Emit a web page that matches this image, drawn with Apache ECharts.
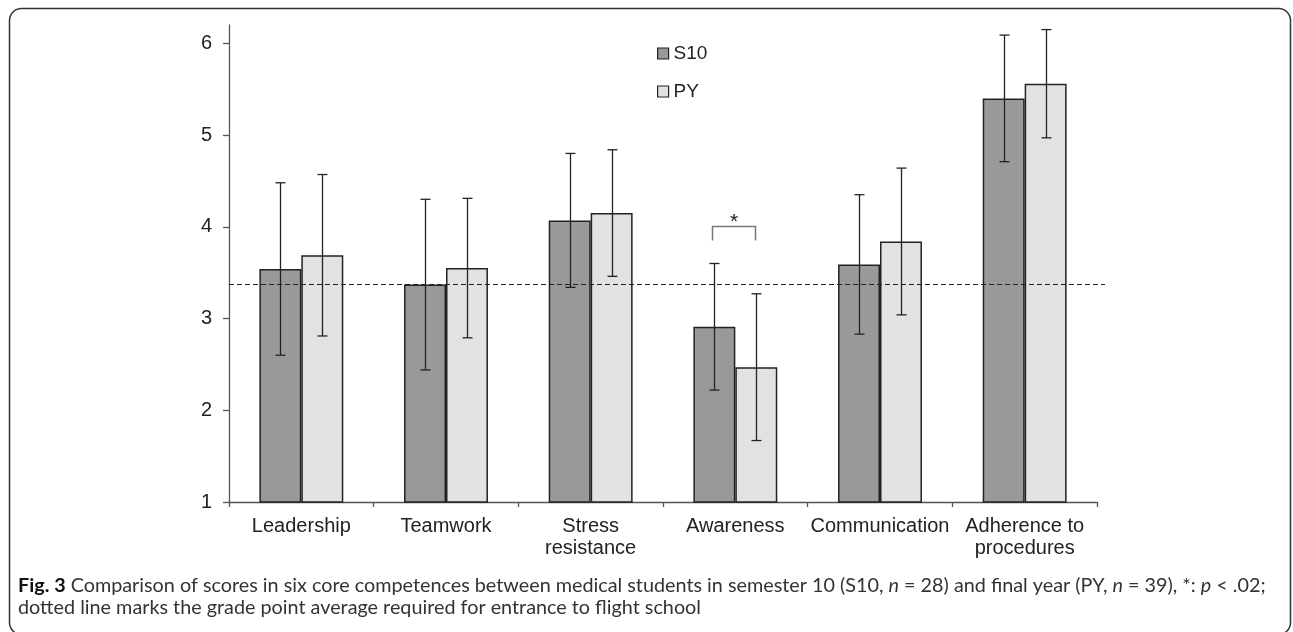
<!DOCTYPE html>
<html>
<head>
<meta charset="utf-8">
<script src="https://cdn.jsdelivr.net/npm/echarts@6/dist/echarts.min.js"></script>
<style>
html,body{margin:0;padding:0;background:#fff;}
#chart{width:1293px;height:632px;}
</style>
</head>
<body>
<div id="chart"></div>
<script>
var categories = ['Leadership', 'Teamwork', 'Stress\nresistance', 'Awareness', 'Communication', 'Adherence to\nprocedures'];
var seriesNames = ['S10', 'PY'];
var s10Mean = [3.54, 3.37, 4.07, 2.91, 3.59, 5.40];
var s10Low  = [2.60, 2.44, 3.34, 2.22, 2.83, 4.71];
var s10High = [4.48, 4.30, 4.80, 3.60, 4.35, 6.09];
var pyMean  = [3.69, 3.55, 4.15, 2.47, 3.84, 5.56];
var pyLow   = [2.81, 2.79, 3.46, 1.67, 3.04, 4.97];
var pyHigh  = [4.57, 4.31, 4.84, 3.27, 4.64, 6.15];
var yTicks = [1, 2, 3, 4, 5, 6];
var thresholdValue = 3.38;
var sigCategoryIndex = 3;
var sigBracket = [3.85, 4.01];
var sigLabel = '*';

var BAR_FRAC = 0.58;
var LINE_COLOR = '#222';

function errData(low, high) {
  return low.map(function (l, i) { return [i, l, high[i]]; });
}
function errRender(sign) {
  return function (params, api) {
    var i = api.value(0);
    var lo = api.coord([i, api.value(1)]);
    var hi = api.coord([i, api.value(2)]);
    var band = api.size([1, 0])[0];
    var cx = Math.round(lo[0] + sign * band * BAR_FRAC / 4) + 0.5;
    var cap = 5;
    var st = { stroke: LINE_COLOR, lineWidth: 1.3 };
    return {
      type: 'group',
      children: [
        { type: 'line', shape: { x1: cx, y1: hi[1], x2: cx, y2: lo[1] }, style: st },
        { type: 'line', shape: { x1: cx - cap, y1: hi[1], x2: cx + cap, y2: hi[1] }, style: st },
        { type: 'line', shape: { x1: cx - cap, y1: lo[1], x2: cx + cap, y2: lo[1] }, style: st }
      ]
    };
  };
}

var chart = echarts.init(document.getElementById('chart'), null, { renderer: 'canvas' });
var option = {
  animation: false,
  backgroundColor: '#fff',
  grid: { left: 229, right: 196, top: 25, bottom: 130, containLabel: false },
  legend: {
    orient: 'vertical',
    left: 657,
    top: 44,
    padding: 0,
    itemWidth: 11,
    itemHeight: 11,
    itemGap: 19,
    icon: 'rect',
    data: seriesNames,
    itemStyle: { borderColor: '#222', borderWidth: 1.2 },
    textStyle: { fontFamily: 'Liberation Sans, Arial, sans-serif', fontSize: 19, color: '#222' }
  },
  xAxis: {
    type: 'category',
    data: categories,
    axisLine: { lineStyle: { color: '#555', width: 1.3 } },
    axisTick: { show: true, length: 5, lineStyle: { color: '#555', width: 1.3 } },
    axisLabel: {
      fontFamily: 'Liberation Sans, Arial, sans-serif', fontSize: 20, color: '#222',
      margin: 13, lineHeight: 22, interval: 0
    },
    splitLine: { show: false }
  },
  yAxis: {
    type: 'value',
    min: 1, max: 6.2, interval: 1,
    axisLine: { show: true, lineStyle: { color: '#555', width: 1.3 } },
    axisTick: { show: true, length: 6, customValues: yTicks, lineStyle: { color: '#555', width: 1.3 } },
    axisLabel: {
      customValues: yTicks,
      fontFamily: 'Liberation Sans, Arial, sans-serif', fontSize: 20, color: '#222', margin: 17
    },
    splitLine: { show: false }
  },
  series: [
    {
      name: seriesNames[0], type: 'bar', data: s10Mean,
      barGap: '0%', barCategoryGap: '42%',
      itemStyle: { color: '#999999', borderColor: '#222', borderWidth: 1.5 },
      z: 2
    },
    {
      name: seriesNames[1], type: 'bar', data: pyMean,
      barGap: '0%', barCategoryGap: '42%',
      itemStyle: { color: '#e2e2e2', borderColor: '#222', borderWidth: 1.5 },
      z: 2
    },
    {
      type: 'custom', name: 'errS10', data: errData(s10Low, s10High),
      renderItem: errRender(-1), encode: { x: 0, y: [1, 2] }, z: 4, silent: true
    },
    {
      type: 'custom', name: 'errPY', data: errData(pyLow, pyHigh),
      renderItem: errRender(1), encode: { x: 0, y: [1, 2] }, z: 4, silent: true
    },
    {
      type: 'custom', name: 'threshold', data: [[0, thresholdValue]],
      encode: { x: 0, y: 1 }, z: 5, silent: true,
      renderItem: function (params, api) {
        var p = api.coord([0, api.value(1)]);
        var cs = params.coordSys;
        var y = Math.round(p[1]) + 0.5;
        return {
          type: 'line',
          shape: { x1: cs.x, y1: y, x2: cs.x + cs.width + 8, y2: y },
          style: { stroke: '#222', lineWidth: 1, lineDash: [5, 3] }
        };
      }
    },
    {
      type: 'custom', name: 'sig', data: [[sigCategoryIndex, sigBracket[0], sigBracket[1]]],
      encode: { x: 0, y: [1, 2] }, z: 5, silent: true,
      renderItem: function (params, api) {
        var i = api.value(0);
        var bot = api.coord([i, api.value(1)]);
        var top = api.coord([i, api.value(2)]);
        var band = api.size([1, 0])[0];
        var off = band * BAR_FRAC / 4;
        var xl = Math.round(top[0] - off - 2) + 0.5, xr = Math.round(top[0] + off - 1) + 0.5;
        var yt = Math.round(top[1]) + 0.5;
        var st = { stroke: '#777', lineWidth: 1.5, fill: null };
        return {
          type: 'group',
          children: [
            { type: 'polyline', shape: { points: [[xl, bot[1]], [xl, yt], [xr, yt], [xr, bot[1]]] }, style: st },
            { type: 'text', x: (xl + xr) / 2, y: yt + 6,
              style: { text: sigLabel, fontSize: 21, fontFamily: 'Liberation Sans, Arial, sans-serif',
                       fill: '#222', align: 'center', verticalAlign: 'bottom' } }
          ]
        };
      }
    }
  ],
  graphic: [
    {
      type: 'rect', silent: true, z: -1,
      shape: { x: 9.5, y: 8.5, width: 1281, height: 626, r: 12 },
      style: { fill: 'none', stroke: '#333', lineWidth: 1.5 }
    },
    {
      type: 'text', left: 18, top: 575, silent: true,
      style: {
        text: '{b|Fig. 3} Comparison of scores in six core competences between medical students in semester 10 (S10, {i|n} = 28) and final year (PY, {i|n} = 39), *: {i|p} < .02;\ndotted line marks the grade point average required for entrance to flight school',
        fontFamily: 'Lato, Open Sans, sans-serif', fontSize: 19.8, fill: '#333', lineHeight: 22,
        rich: {
          b: { fontWeight: 'bold', fontFamily: 'Lato, Open Sans, sans-serif', fontSize: 19.8, fill: '#111', lineHeight: 22 },
          i: { fontStyle: 'italic', fontFamily: 'Lato, Open Sans, sans-serif', fontSize: 19.8, fill: '#333', lineHeight: 22 }
        }
      }
    }
  ]
};
chart.setOption(option);
</script>
</body>
</html>
